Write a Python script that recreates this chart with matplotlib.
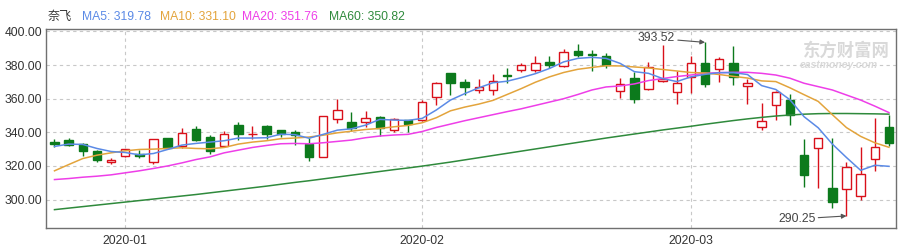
import matplotlib.pyplot as plt
import numpy as np

plt.rcParams['font.family'] = ['Liberation Sans', 'Noto Sans CJK SC', 'DejaVu Sans']

# daily candles, 60 trading days (2019-12-24 .. 2020-03-20)
opens = [334.5, 335.4, 333.0, 329.0, 322.2, 325.8, 327.0, 322.6, 336.6, 332.0,
         342.2, 337.4, 331.8, 344.6, 338.8, 344.0, 341.4, 340.4, 332.8, 325.6,
         348.1, 346.1, 345.9, 348.9, 341.3, 347.3, 347.1, 361.0, 375.1, 370.2,
         365.0, 365.0, 374.3, 376.9, 376.9, 381.9, 379.5, 388.5, 386.7, 385.5,
         364.4, 372.2, 366.0, 370.5, 364.1, 373.2, 381.1, 377.5, 381.1, 367.4,
         343.4, 356.1, 359.2, 326.3, 330.4, 306.9, 306.3, 301.9, 323.9, 343.4]
highs = [336.0, 336.4, 333.6, 329.6, 324.6, 330.2, 329.4, 336.2, 336.8, 342.4,
         344.0, 338.2, 341.0, 346.0, 343.6, 344.2, 341.6, 341.4, 336.6, 350.0,
         359.6, 352.1, 352.7, 349.7, 348.5, 347.5, 359.2, 370.2, 375.3, 371.8,
         371.6, 374.7, 378.5, 381.1, 385.3, 385.3, 389.5, 392.5, 389.1, 387.1,
         372.6, 375.7, 381.7, 392.0, 376.7, 385.5, 393.52, 384.7, 391.4, 371.6,
         357.2, 364.5, 362.9, 336.2, 336.5, 336.5, 322.6, 331.4, 348.5, 350.5]
lows = [331.5, 331.6, 325.8, 322.4, 321.2, 325.2, 325.0, 321.2, 330.2, 330.6,
        334.6, 327.0, 331.4, 335.4, 335.8, 335.8, 337.4, 332.2, 323.2, 325.2,
        345.7, 340.9, 342.9, 338.1, 340.3, 340.3, 346.9, 356.0, 362.0, 362.0,
        363.2, 362.4, 369.6, 375.7, 375.9, 378.3, 379.1, 384.7, 376.7, 378.1,
        360.6, 357.6, 365.0, 370.0, 356.6, 363.2, 367.2, 370.2, 368.1, 356.7,
        341.5, 347.4, 344.6, 307.3, 307.1, 294.7, 290.25, 299.9, 316.9, 331.6]
closes = [333.0, 332.4, 328.6, 323.4, 323.6, 329.8, 325.8, 336.0, 330.4, 339.4,
          335.6, 328.6, 339.0, 338.8, 339.2, 338.8, 339.2, 338.2, 325.6, 349.8,
          353.1, 342.5, 348.3, 342.5, 347.7, 344.7, 357.8, 369.2, 369.6, 366.8,
          366.8, 370.8, 373.3, 380.1, 381.3, 380.1, 387.7, 385.9, 385.9, 379.8,
          368.6, 359.8, 379.1, 371.5, 369.6, 381.1, 368.5, 383.5, 372.7, 369.2,
          346.6, 363.8, 350.2, 314.7, 336.4, 298.7, 319.5, 315.5, 331.4, 333.7]

ma5 = [331.6, 333.0, 332.8, 330.4, 328.6, 328.0, 326.6, 327.4, 329.8, 332.4,
       333.4, 334.2, 335.0, 336.6, 336.6, 336.8, 338.9, 338.6, 336.5, 338.8,
       341.3, 342.1, 344.3, 347.7, 347.3, 347.1, 348.3, 353.3, 359.2, 363.0,
       366.5, 369.5, 370.4, 372.5, 374.9, 378.0, 381.9, 384.0, 384.6, 384.0,
       381.0, 376.1, 375.1, 372.0, 370.2, 373.0, 374.5, 375.5, 375.5, 374.4,
       367.8, 365.5, 359.4, 349.3, 342.7, 333.0, 325.0, 317.4, 320.4, 319.78]
ma10 = [317.1, 320.8, 324.4, 326.4, 327.8, 329.0, 329.8, 330.0, 330.4, 330.8,
        330.4, 330.2, 331.0, 333.0, 334.2, 335.0, 336.2, 336.6, 337.2, 338.3,
        339.7, 340.7, 341.7, 342.3, 343.3, 344.1, 345.7, 348.7, 352.8, 355.0,
        356.8, 359.0, 362.5, 366.0, 369.8, 373.0, 375.6, 377.5, 378.6, 379.6,
        379.5, 378.9, 378.3, 377.4, 376.5, 375.6, 375.3, 374.4, 373.3, 372.3,
        370.6, 370.2, 366.5, 362.4, 358.4, 350.5, 342.8, 337.6, 333.8, 331.10]
ma20 = [311.9, 312.5, 313.3, 313.9, 314.7, 315.9, 317.1, 318.5, 320.0, 321.8,
        323.8, 325.4, 327.8, 329.4, 331.0, 332.2, 333.2, 333.4, 333.2, 333.8,
        334.6, 335.4, 336.8, 337.8, 338.4, 338.8, 340.5, 342.9, 344.9, 346.9,
        348.7, 350.5, 352.3, 354.0, 356.0, 358.0, 360.0, 362.5, 365.2, 367.0,
        367.6, 368.8, 370.8, 372.0, 373.2, 374.1, 375.1, 375.5, 375.7, 375.7,
        375.1, 374.1, 372.2, 369.2, 367.2, 365.2, 362.2, 359.2, 355.6, 351.76]
ma60 = [294.0, 294.9, 295.8, 296.7, 297.6, 298.5, 299.4, 300.3, 301.2, 302.1,
        303.0, 304.0, 305.0, 306.0, 307.0, 308.0, 309.1, 310.2, 311.2, 312.3,
        313.4, 314.5, 315.6, 316.7, 317.8, 318.8, 319.9, 321.1, 322.3, 323.6,
        324.9, 326.2, 327.5, 328.8, 330.1, 331.4, 332.7, 334.0, 335.3, 336.6,
        337.8, 339.0, 340.2, 341.4, 342.5, 343.6, 344.8, 345.9, 347.0, 348.0,
        348.9, 349.7, 350.3, 350.8, 351.1, 351.2, 351.2, 351.1, 351.0, 350.82]

month_idx = [5, 26, 45]
month_labels = ['2020-01', '2020-02', '2020-03']
y_ticks = [300, 320, 340, 360, 380, 400]

name = '奈飞'
ma_names = ['MA5', 'MA10', 'MA20', 'MA60']
ma_colors = ['#5b8ae6', '#e3a43c', '#ee3ee8', '#2f8a3c']

UP = '#d9101a'
DOWN = '#0c7a1c'
W, H = 901, 250


def plot_candles(ax):
    o = np.array(opens)
    c = np.array(closes)
    x = np.arange(len(o))
    up = c >= o
    cols = np.where(up, UP, DOWN)
    ax.vlines(x, lows, highs, colors=cols, lw=1, zorder=2)
    bottom = np.minimum(o, c)
    height = np.maximum(np.abs(c - o), 0.45)
    ax.bar(x[up], height[up], bottom=bottom[up], width=0.6,
           facecolor='white', edgecolor=UP, lw=1, zorder=3)
    ax.bar(x[~up], height[~up], bottom=bottom[~up], width=0.6,
           facecolor=DOWN, edgecolor=DOWN, lw=1, zorder=3)


def plot_mas(ax):
    x = np.arange(len(opens))
    for vals, col in zip([ma60, ma20, ma10, ma5], ma_colors[::-1]):
        ax.plot(x, vals, color=col, lw=1.1, zorder=4)


def plot():
    fig = plt.figure(figsize=(W / 100, H / 100), dpi=100)
    left, right, top, bot = 46, 896, 29.3, 228.3
    ax = fig.add_axes([left / W, 1 - bot / H, (right - left) / W, (bot - top) / H])

    plot_candles(ax)
    plot_mas(ax)

    ax.set_xlim(-0.6, 59.5)
    ax.set_ylim(282.9, 401.3)
    ax.set_yticks(y_ticks)
    ax.set_yticklabels(['%.2f' % v for v in y_ticks])
    ax.set_xticks(month_idx)
    ax.set_xticklabels(month_labels)
    ax.tick_params(length=0, labelsize=8.7, colors='#333333')
    ax.tick_params(axis='y', pad=3)
    ax.tick_params(axis='x', pad=5)
    ax.grid(True, color='#c8c8c8', linestyle=(0, (3, 3)), lw=0.8, zorder=0)
    for s in ax.spines.values():
        s.set_color('#707070')
        s.set_linewidth(1)

    # high / low markers
    hi = int(np.argmax(highs))
    lo = int(np.argmin(lows))
    arrow = dict(arrowstyle='-|>', color='#555555', lw=0.8,
                 shrinkA=0, shrinkB=0, mutation_scale=7)
    ax.annotate('%.2f' % highs[hi], xy=(hi, highs[hi]), xytext=(-30, 4),
                textcoords='offset pixels', ha='right', va='center',
                fontsize=8.7, color='#444444', arrowprops=arrow, zorder=6)
    ax.annotate('%.2f' % lows[lo], xy=(lo, lows[lo]), xytext=(-31, -3),
                textcoords='offset pixels', ha='right', va='center',
                fontsize=8.7, color='#444444', arrowprops=arrow, zorder=6)

    # watermark
    fig.text(803 / W, 1 - 51 / H, '东方财富网', fontsize=12.5, color='#d9d9d9',
             fontweight='bold', va='center', ha='left',
             family=['Noto Sans CJK SC'], zorder=1)
    fig.text(800 / W, 1 - 64.5 / H, 'eastmoney.com', fontsize=7.5, color='#d9d9d9',
             fontweight='bold', style='italic', va='center', ha='left', zorder=1)

    # header legend
    fig.text(48 / W, 1 - 16.5 / H, name, fontsize=8.7, color='#333333', va='center')
    xs = [82, 160, 242, 329]
    last = [ma5[-1], ma10[-1], ma20[-1], ma60[-1]]
    for xp, n, v, col in zip(xs, ma_names, last, ma_colors):
        fig.text(xp / W, 1 - 16.5 / H, '%s: %.2f' % (n, v), fontsize=8.7,
                 color=col, va='center')

    fig.savefig('out.png', dpi=100)


if __name__ == '__main__':
    plot()
